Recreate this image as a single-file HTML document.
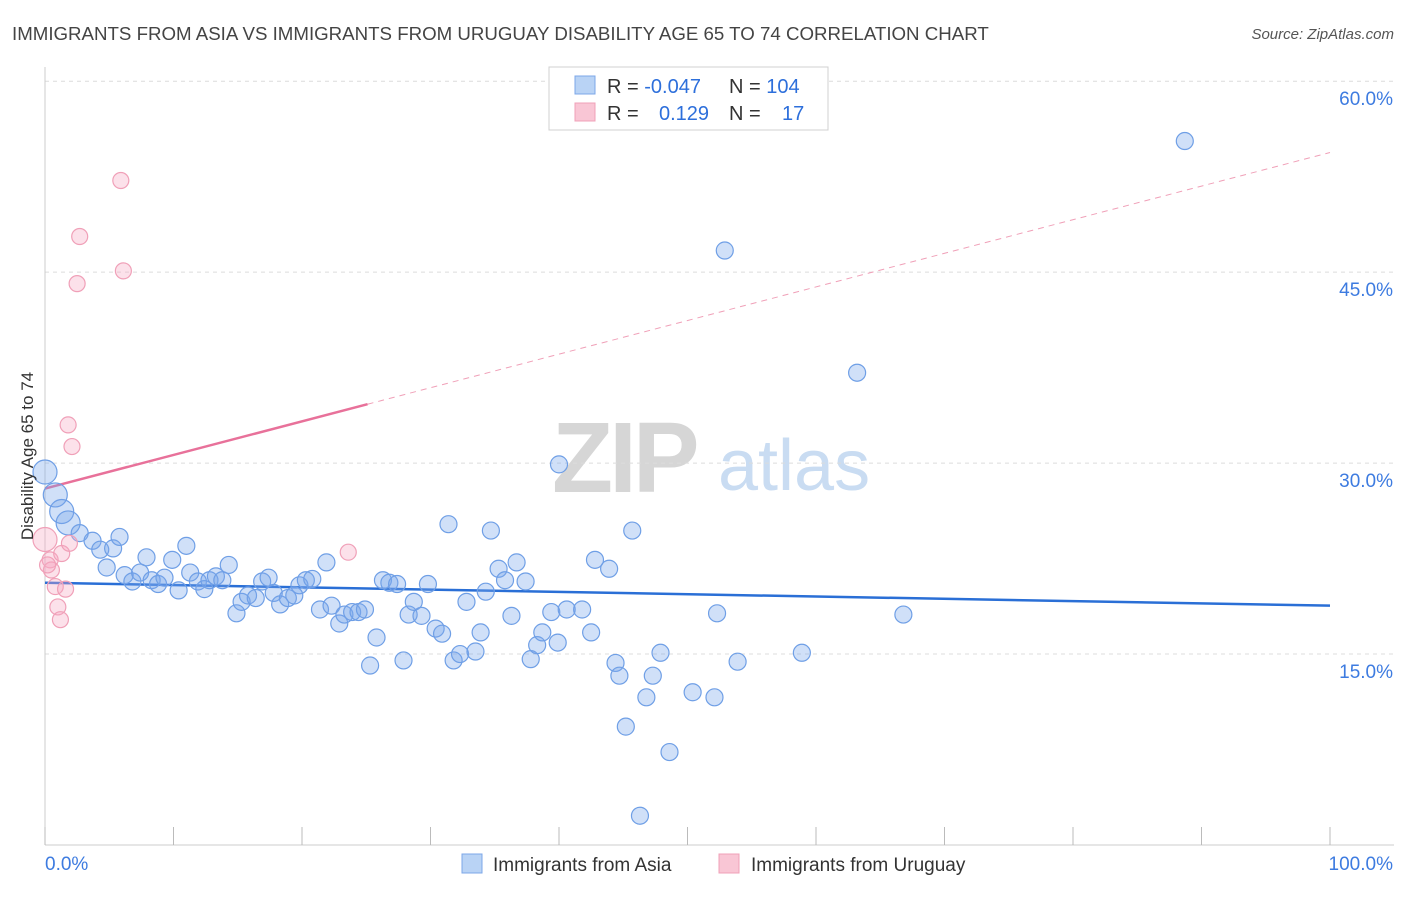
<!DOCTYPE html>
<html><head><meta charset="utf-8"><style>
body{margin:0;background:#fff;font-family:"Liberation Sans",sans-serif;}
svg text{font-family:"Liberation Sans",sans-serif;}
</style></head><body>
<svg id="chart" width="1406" height="892" viewBox="0 0 1406 892" xmlns="http://www.w3.org/2000/svg">
<text x="12" y="40" font-size="18.7" fill="#444">IMMIGRANTS FROM ASIA VS IMMIGRANTS FROM URUGUAY DISABILITY AGE 65 TO 74 CORRELATION CHART</text>
<text x="1394" y="39" font-size="15" fill="#555" font-style="italic" text-anchor="end">Source: ZipAtlas.com</text>
<g>
<text x="552" y="492" font-size="100" fill="#d6d6d6" font-family="Liberation Serif" font-weight="bold" letter-spacing="-4">ZIP</text>
<text x="718" y="490" font-size="72" fill="#c9dcf2">atlas</text>
</g>
<g id="grid"></g>
<g id="axes"></g>
<g id="lines"></g>
<g id="points"></g>
<text transform="translate(33,456) rotate(-90)" font-size="17" fill="#333" text-anchor="middle">Disability Age 65 to 74</text>
<g>
<rect x="549" y="67" width="279" height="63" fill="#fff" stroke="#d0d0d0"/>
<rect x="575" y="76" width="20" height="18" fill="#b9d3f5" stroke="#7ca7e8"/>
<rect x="575" y="103" width="20" height="18" fill="#f9c6d5" stroke="#f0a0b8"/>
<text x="607" y="93" font-size="20" fill="#333">R = <tspan fill="#2d6fdb">-0.047</tspan></text>
<text x="729" y="93" font-size="20" fill="#333">N = <tspan fill="#2d6fdb">104</tspan></text>
<text x="607" y="120" font-size="20" fill="#333">R = </text>
<text x="659" y="120" font-size="20" fill="#2d6fdb">0.129</text>
<text x="729" y="120" font-size="20" fill="#333">N = </text>
<text x="782" y="120" font-size="20" fill="#2d6fdb">17</text>
</g>
<g>
<rect x="462" y="854" width="20" height="19" fill="#b9d3f5" stroke="#7ca7e8"/>
<text x="493" y="871" font-size="19" fill="#333">Immigrants from Asia</text>
<rect x="719" y="854" width="20" height="19" fill="#f9c6d5" stroke="#f0a0b8"/>
<text x="751" y="871" font-size="19" fill="#333">Immigrants from Uruguay</text>
</g>
</svg>
<script>
const yTicks=[15,30,45,60];
const yTickLabels=["15.0%","30.0%","45.0%","60.0%"];
const xTicks=[0,10,20,30,40,50,60,70,80,90,100];
const asiaX=[0,0.8,1.3,1.8,2.7,3.7,4.3,5.3,5.8,4.8,6.2,6.8,7.4,7.9,8.3,8.8,9.3,9.9,10.4,11.0,11.3,11.9,12.4,12.8,13.3,13.8,14.3,14.9,15.3,15.8,16.4,16.9,17.4,17.8,18.3,18.9,19.4,19.8,20.3,20.8,21.4,21.9,22.3,22.9,23.3,23.9,24.4,24.9,25.8,25.3,26.3,26.8,27.4,27.9,28.3,28.7,29.3,29.8,30.4,30.9,31.4,31.8,32.3,32.8,33.5,33.9,34.3,34.7,35.3,35.8,36.3,36.7,37.4,37.8,38.3,38.7,39.4,39.9,40.0,40.6,41.8,42.5,42.8,43.9,44.4,44.7,45.2,45.7,46.3,46.8,47.3,47.9,48.6,50.4,52.1,52.3,52.9,53.9,58.9,63.2,66.8,88.7];
const asiaY=[29.3,27.5,26.2,25.3,24.5,23.9,23.2,23.3,24.2,21.8,21.2,20.7,21.4,22.6,20.8,20.5,21.0,22.4,20.0,23.5,21.4,20.7,20.1,20.8,21.1,20.8,22.0,18.2,19.1,19.6,19.4,20.7,21.0,19.8,18.9,19.4,19.6,20.4,20.8,20.9,18.5,22.2,18.8,17.4,18.1,18.3,18.3,18.5,16.3,14.1,20.8,20.6,20.5,14.5,18.1,19.1,18.0,20.5,17.0,16.6,25.2,14.5,15.0,19.1,15.2,16.7,19.9,24.7,21.7,20.8,18.0,22.2,20.7,14.6,15.7,16.7,18.3,15.9,29.9,18.5,18.5,16.7,22.4,21.7,14.3,13.3,9.3,24.7,2.3,11.6,13.3,15.1,7.3,12.0,11.6,18.2,46.7,14.4,15.1,37.1,18.1,55.3];
const uruX=[5.9,2.7,6.1,2.5,1.8,2.1,23.6,0,0.4,1.3,0.5,1.9,0.8,1.6,1.0,1.2,0.2];
const uruY=[52.2,47.8,45.1,44.1,33.0,31.3,23.0,24.0,22.4,22.9,21.6,23.7,20.3,20.1,18.7,17.7,22.0];
const asiaTrend=[20.6,18.8];
const uruTrend=[28.0,54.4];
const NS="http://www.w3.org/2000/svg";
const X0=45,X1=1330,Y0=845,PY=12.73;
const sx=v=>X0+(X1-X0)*v/100;
const sy=v=>Y0-v*PY;
function mk(t,a,p){const e=document.createElementNS(NS,t);for(const k in a)e.setAttribute(k,a[k]);p.appendChild(e);return e;}
const grid=document.getElementById('grid'),axes=document.getElementById('axes'),lines=document.getElementById('lines'),pts=document.getElementById('points');
yTicks.forEach((v,i)=>{
 const l=mk('line',{x1:X0,x2:1394,y1:sy(v),y2:sy(v),stroke:'#dcdcdc','stroke-dasharray':'4,4'},grid);
 
 
 const t=mk('text',{x:1393,y:sy(v)+24,'font-size':19,fill:'#3d7be0','text-anchor':'end'},axes);
 t.textContent=yTickLabels[i];
 
 
});
mk('line',{x1:X0,x2:X0,y1:67,y2:Y0,stroke:'#ccc'},axes);
mk('line',{x1:X0,x2:1394,y1:Y0,y2:Y0,stroke:'#ccc'},axes);
xTicks.forEach(v=>{
 const l=mk('line',{x1:sx(v),x2:sx(v),y1:827,y2:Y0,stroke:'#bbb'},axes);
 
 
});
const xl=mk('text',{x:45,y:870,'font-size':19,fill:'#3d7be0'},axes);xl.textContent='0.0%';


const xr=mk('text',{x:1393,y:870,'font-size':19,fill:'#3d7be0','text-anchor':'end'},axes);xr.textContent='100.0%';


asiaX.forEach((x,i)=>{
 const big=(x<2);
 const c=mk('circle',{cx:sx(x),cy:sy(asiaY[i]),r:big?12:8.5,fill:'rgba(120,165,235,0.35)',stroke:'#6f9fe6','stroke-width':1.2},pts);
 
 
});
uruX.forEach((x,i)=>{
 const big=(x===0);
 const c=mk('circle',{cx:sx(x),cy:sy(uruY[i]),r:big?12:8,fill:'rgba(246,170,195,0.35)',stroke:'#f0a0b8','stroke-width':1.2},pts);
 
 
});
const bl=mk('line',{x1:sx(0),y1:sy(asiaTrend[0]),x2:sx(100),y2:sy(asiaTrend[1]),stroke:'#2a6fd6','stroke-width':2.5},lines);


const uAt=x=>uruTrend[0]+(uruTrend[1]-uruTrend[0])*x/100;
const ps=mk('line',{x1:sx(0),y1:sy(uAt(0)),x2:sx(25.1),y2:sy(uAt(25.1)),stroke:'#e8719a','stroke-width':2.5},lines);


const pd=mk('line',{x1:sx(25.1),y1:sy(uAt(25.1)),x2:sx(100),y2:sy(uAt(100)),stroke:'#f0a0b8','stroke-width':1,'stroke-dasharray':'6,5'},lines);


</script>
</body></html>
